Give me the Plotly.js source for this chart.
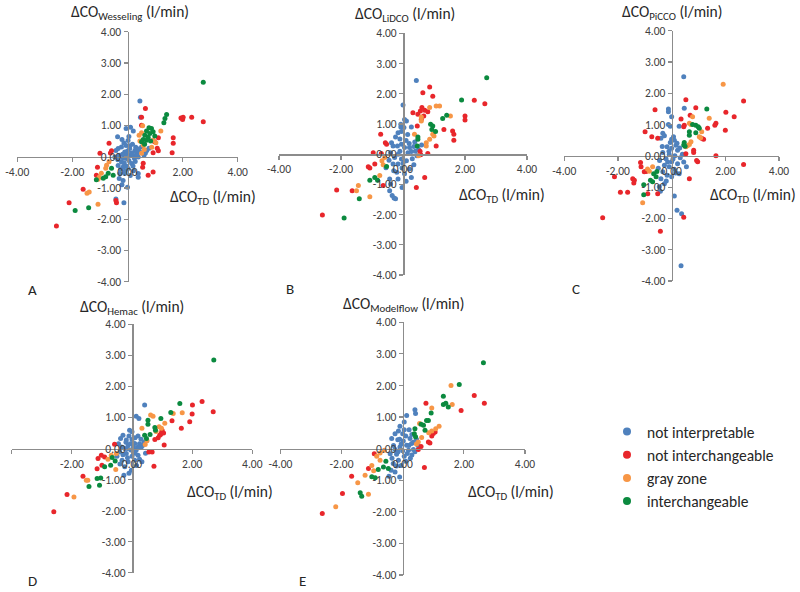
<!DOCTYPE html>
<html><head><meta charset="utf-8">
<script src="https://cdn.plot.ly/plotly-3.0.1.min.js"></script>
<style>html,body{margin:0;padding:0;background:#fff}#chart{width:800px;height:592px}</style>
</head><body><div id="chart"></div>
<script>
// ---------- data ----------
const categories = ['not interpretable', 'not interchangeable', 'gray zone', 'interchangeable'];
const panelLetters = ['A', 'B', 'C', 'D', 'E'];
const deviceNames = ['Wesseling', 'LiDCO', 'PiCCO', 'Hemac', 'Modelflow'];
const xTitleText = 'ΔCO<sub>TD</sub> (l/min)';
const xTickVals = [-4, -2, 0, 2, 4];
const xTickText = ['-4.00', '-2.00', '0.00', '2.00', '4.00'];
const yTickVals = [-4, -3, -2, -1, 0, 1, 2, 3, 4];
const yTickText = ['-4.00', '-3.00', '-2.00', '-1.00', '0.00', '1.00', '2.00', '3.00', '4.00'];

// Panel A: Wesseling  [ΔCO_TD, ΔCO_device]
const A_notInterpretable = [[0.45,1.78],[0.47,1.26],[-0.36,0.64],[0.11,0.94],[0.21,0.82],[-0.13,0.44],[0.02,0.52],[-0.05,0.36],[-0.34,0.26],[-0.22,0.31],[-0.46,-0.01],[-0.10,0.15],[0.08,0.26],[0.27,0.20],[0.33,0.12],[0.21,0.04],[-0.04,-0.06],[-0.22,-0.17],[-0.34,-0.28],[-0.16,-0.33],[0.02,-0.38],[0.15,-0.22],[0.39,-0.54],[0.00,-0.98],[-0.16,-0.76],[-0.42,-1.35],[-0.13,-1.47],[0.39,-0.66],[-0.28,-0.54],[-0.10,-0.54],[0.51,0.31],[0.39,-0.01],[0.12,0.05],[-0.08,0.02],[0.05,-0.12],[-0.18,0.08],[0.25,-0.05],[0.30,0.30],[-0.30,0.05],[0.00,0.18],[-0.12,-0.20],[0.18,0.40],[-0.25,-0.40],[0.10,-0.60],[-0.05,-0.30],[0.35,0.05],[0.45,0.15],[-0.35,-0.10],[0.05,0.65],[-0.20,0.55],[-0.30,-0.70],[0.20,-0.30],[0.28,-0.15],[-0.42,0.20],[0.15,0.12],[-0.15,-0.05],[0.40,0.25],[-0.05,0.90],[0.60,0.05],[0.70,0.20],[0.78,0.27],[0.65,0.12],[-0.08,-0.45],[0.08,0.35],[-0.02,0.10],[0.22,-0.45],[-0.20,-0.90]];
const A_notInterchangeable = [[2.75,1.12],[2.33,1.26],[1.94,1.24],[2.02,1.26],[2.00,1.19],[1.66,0.61],[1.66,0.43],[1.62,0.13],[1.12,0.61],[1.08,0.27],[1.12,0.19],[0.93,0.13],[0.65,1.54],[0.51,1.26],[0.51,1.01],[0.57,-0.21],[0.55,-0.34],[0.75,-0.59],[0.93,-0.49],[-0.67,0.43],[-1.00,0.11],[-0.58,0.19],[-0.62,0.12],[-1.09,-0.34],[-1.13,-0.59],[-1.61,-1.04],[-2.12,-1.47],[-2.58,-2.22],[-0.40,-1.47],[-0.42,-1.40],[0.98,0.48]];
const A_grayZone = [[1.21,0.82],[0.55,0.99],[0.51,0.77],[0.42,0.69],[0.93,0.53],[1.03,0.45],[0.57,0.37],[0.61,0.23],[0.51,0.11],[0.45,0.50],[-0.67,-0.16],[-0.76,-0.27],[-0.79,-0.37],[-0.95,-0.53],[-1.03,-0.66],[-1.07,-0.72],[-1.47,-1.17],[-1.39,-1.13],[-1.07,-1.52],[0.88,0.30]];
const A_interchangeable = [[2.75,2.38],[1.42,1.35],[1.36,1.22],[1.32,1.09],[0.78,0.93],[0.87,0.90],[0.69,0.82],[0.93,0.80],[0.81,0.74],[0.63,0.69],[0.75,0.62],[0.99,0.66],[0.57,0.55],[0.69,0.53],[0.84,0.50],[0.51,0.48],[0.62,0.40],[-0.70,-0.53],[-0.79,-0.64],[-0.88,-0.69],[-0.58,-0.37],[-0.52,-0.59],[-1.41,-1.63],[-1.90,-1.72],[-1.13,-0.74]];

// Panel B: LiDCO
const B_notInterpretable = [[0.43,2.44],[0.00,1.63],[0.05,1.15],[0.11,1.10],[-0.07,0.99],[-0.07,0.90],[0.03,0.88],[0.27,0.90],[-0.16,0.71],[-0.24,0.57],[-0.37,0.38],[-0.32,0.27],[-0.18,0.27],[-0.05,0.33],[0.05,0.22],[0.21,0.22],[0.27,0.09],[0.16,0.05],[-0.16,0.00],[-0.27,-0.11],[-0.05,-0.16],[0.11,-0.22],[-0.16,-0.33],[-0.32,-0.33],[-0.03,-0.46],[0.21,-0.49],[0.27,-0.77],[-0.43,-0.82],[-0.40,-0.99],[-0.43,-1.21],[-0.35,-1.37],[-0.29,-1.45],[-0.24,-1.48],[-0.03,-1.10],[-0.16,-0.82],[0.40,0.10],[0.45,-0.05],[0.35,0.25],[0.10,0.45],[-0.10,0.50],[0.50,0.15],[0.55,0.00],[0.30,-0.15],[-0.40,0.05],[-0.20,-0.60],[0.05,-0.65],[0.15,0.65],[-0.05,0.75],[0.38,0.40],[-0.45,-0.20],[0.00,-0.30],[-0.10,0.10],[0.20,0.35],[0.60,0.30],[-0.30,-0.55],[0.10,-0.90],[0.35,-0.35],[-0.55,-0.45]];
const B_notInterchangeable = [[2.64,1.67],[2.30,1.78],[2.00,1.26],[2.00,1.13],[1.60,0.77],[1.64,0.66],[1.64,0.46],[1.07,0.27],[1.32,0.82],[0.86,2.22],[0.64,2.03],[0.96,1.92],[0.61,1.54],[0.56,1.43],[0.70,1.45],[0.80,1.40],[0.67,1.26],[0.48,1.32],[0.32,1.37],[0.59,1.15],[0.46,0.93],[0.80,0.02],[0.57,-0.02],[0.70,-0.77],[0.43,-1.10],[-0.72,0.66],[-0.57,0.38],[-0.53,0.33],[-0.96,0.05],[-0.70,0.02],[-0.91,-0.33],[-1.12,-0.42],[-1.07,-0.46],[-0.64,-1.04],[-1.64,-1.21],[-2.14,-1.19],[-2.60,-2.01],[0.55,0.10]];
const B_grayZone = [[1.18,1.59],[1.07,1.59],[0.86,1.54],[1.53,1.26],[0.59,1.23],[0.59,1.10],[0.37,0.66],[0.75,0.38],[0.75,0.27],[0.96,0.66],[1.00,0.60],[0.86,0.49],[-0.59,-0.11],[-0.64,-0.35],[-0.75,-0.71],[-1.44,-1.04],[-1.50,-1.21],[-1.07,-1.41],[-0.68,-0.22],[0.50,-0.05]];
const B_interchangeable = [[2.70,2.53],[1.89,1.79],[1.41,1.29],[1.28,1.18],[0.96,0.93],[0.89,0.99],[0.93,0.82],[0.48,0.57],[0.48,0.49],[0.46,0.27],[-0.53,-0.41],[-1.07,-0.86],[-0.91,-0.77],[-0.82,-0.86],[-1.41,-1.48],[-1.90,-2.11],[1.05,0.75]];

// Panel C: PiCCO
const C_notInterpretable = [[0.45,2.53],[0.47,1.52],[-0.12,1.50],[-0.12,1.41],[0.00,1.25],[-0.12,1.00],[-0.05,0.95],[0.28,0.95],[-0.33,0.72],[-0.27,0.64],[-0.40,0.56],[0.07,0.61],[0.00,0.53],[0.10,0.50],[-0.05,0.43],[0.16,0.34],[-0.17,0.29],[0.00,0.24],[0.22,0.18],[-0.33,0.11],[-0.09,0.04],[0.12,0.00],[0.32,-0.06],[-0.21,-0.09],[0.00,-0.19],[0.22,-0.25],[-0.27,-0.30],[-0.09,-0.35],[0.10,-0.43],[-0.33,-0.51],[-0.17,-0.62],[0.00,-0.67],[0.28,-0.57],[-0.40,-0.73],[-0.27,-0.89],[-0.46,-0.99],[-0.42,-1.13],[0.10,-1.28],[0.20,-1.74],[0.37,-1.85],[0.35,-3.51],[0.40,0.05],[0.45,-0.20],[-0.45,-0.15],[-0.50,-0.40],[0.20,0.40],[-0.15,-0.20],[0.30,0.25],[0.05,-0.10],[-0.35,0.30],[0.15,-0.55],[-0.10,0.15],[0.55,-0.35],[-0.20,-0.80]];
const C_notInterchangeable = [[2.68,-0.28],[2.68,1.75],[2.33,1.25],[2.02,1.39],[2.00,0.82],[1.65,1.04],[1.61,0.98],[1.65,0.00],[1.34,0.88],[1.19,0.53],[1.12,0.56],[0.90,1.54],[0.97,-0.19],[0.93,-0.15],[0.82,0.18],[0.82,0.11],[0.53,1.79],[0.47,0.98],[0.45,0.93],[0.35,1.18],[0.69,1.30],[0.66,-0.73],[0.53,0.07],[0.45,-1.96],[-0.42,-2.41],[-0.62,1.47],[-0.99,0.77],[-0.74,0.61],[-0.52,0.56],[-1.14,-0.35],[-1.02,-0.51],[-0.95,-0.50],[-1.45,-0.73],[-1.39,-0.78],[-1.41,-0.87],[-1.64,-1.16],[-1.91,-1.16],[-2.13,-0.67],[-2.57,-1.98],[-0.89,-1.21],[-0.52,-1.21],[-1.16,-0.21]];
const C_grayZone = [[1.92,2.29],[0.78,1.25],[0.66,1.04],[0.72,1.00],[1.40,1.20],[1.12,0.77],[1.03,0.61],[1.08,0.58],[0.72,0.45],[0.66,0.36],[0.59,0.32],[0.53,0.29],[-0.71,-0.35],[-0.83,-0.49],[-1.08,-1.50],[-0.90,-0.42]];
const C_interchangeable = [[1.31,1.50],[0.78,1.00],[0.90,0.98],[0.99,0.93],[1.03,0.88],[0.66,0.77],[0.66,0.66],[0.90,0.74],[0.47,0.43],[0.50,0.31],[0.45,0.35],[-0.67,-0.57],[-0.58,-0.67],[-0.79,-0.78],[-0.71,-0.83],[-1.04,-0.92],[-1.04,-1.24],[-0.55,-0.50]];

// Panel D: Hemac
const D_notInterpretable = [[0.42,1.40],[0.14,1.04],[0.23,0.97],[0.00,0.54],[-0.08,0.59],[-0.30,0.43],[-0.38,0.32],[-0.19,0.27],[0.00,0.29],[0.20,0.40],[0.09,0.16],[-0.13,0.11],[-0.24,0.00],[-0.04,-0.05],[0.14,-0.05],[0.31,0.05],[-0.41,-0.11],[-0.19,-0.16],[0.00,-0.25],[0.20,-0.22],[-0.33,-0.38],[-0.13,-0.43],[-0.24,-0.59],[-0.02,-0.70],[0.33,-0.43],[0.09,-0.38],[-0.27,-0.86],[0.40,0.20],[0.35,0.10],[-0.45,0.15],[0.10,0.35],[-0.10,0.40],[0.25,0.15],[-0.30,-0.20],[0.05,-0.12],[-0.15,-0.30],[0.15,-0.55],[-0.40,-0.50],[0.45,-0.15],[-0.05,0.15],[0.30,0.30],[-0.20,0.20],[0.20,0.05],[-0.35,0.05],[0.10,-0.15],[-0.10,-0.80],[0.25,-0.35],[-0.50,-0.25],[0.05,0.05],[-0.15,0.00]];
const D_notInterchangeable = [[2.70,1.18],[2.33,1.51],[2.01,1.40],[2.00,1.11],[1.92,0.86],[1.64,0.65],[1.33,0.89],[1.00,0.59],[0.98,0.51],[0.92,0.43],[0.87,0.35],[1.07,0.11],[0.76,0.29],[0.67,-0.11],[0.56,-0.11],[0.73,-0.57],[-0.58,0.14],[-0.91,-0.27],[-1.02,-0.22],[-1.13,-0.32],[-1.16,-0.65],[-1.00,-0.54],[-1.63,-0.89],[-2.16,-1.48],[-2.60,-2.04],[0.95,0.45],[1.05,0.50]];
const D_grayZone = [[1.67,1.15],[1.37,1.13],[0.62,1.08],[0.70,1.04],[0.33,0.65],[0.44,0.13],[1.09,0.81],[0.98,0.65],[0.80,0.55],[-0.52,-0.16],[-0.69,-0.22],[-0.54,-0.68],[-1.52,-1.02],[-1.47,-1.02],[-1.93,-1.56],[-0.80,-0.35],[0.50,0.25],[0.90,0.70]];
const D_interchangeable = [[2.72,2.85],[1.59,1.45],[1.29,1.16],[0.96,0.97],[0.53,0.91],[0.53,0.78],[0.76,0.68],[0.78,0.59],[0.42,0.43],[0.48,0.32],[-0.66,-0.29],[-0.56,-0.40],[-0.71,-0.54],[-0.91,-0.59],[-1.04,-0.95],[-1.16,-0.97],[-1.43,-1.22],[-1.08,-1.18],[0.60,0.45]];

// Panel E: Modelflow
const E_notInterpretable = [[0.40,1.23],[0.42,1.11],[0.13,1.05],[0.05,0.84],[-0.09,0.71],[-0.14,0.56],[-0.25,0.47],[0.00,0.47],[0.21,0.60],[-0.36,0.32],[-0.16,0.28],[0.02,0.24],[0.24,0.32],[0.29,0.16],[0.13,0.11],[-0.09,0.05],[-0.25,-0.03],[0.00,-0.07],[0.19,-0.05],[0.35,-0.03],[-0.41,-0.16],[-0.20,-0.18],[0.05,-0.24],[-0.14,-0.37],[-0.31,-0.47],[-0.05,-0.53],[-0.25,-0.74],[-0.38,-0.68],[-0.45,-0.87],[0.25,-0.30],[0.40,-0.10],[0.45,0.30],[0.30,0.45],[-0.10,0.30],[0.10,0.40],[-0.30,0.10],[0.15,-0.15],[-0.05,0.15],[0.35,0.20],[-0.20,-0.55],[0.10,-0.40],[-0.35,-0.30],[0.20,0.10],[-0.15,-0.10],[0.05,0.60],[0.50,0.10],[-0.10,-0.90],[0.30,-0.20]];
const E_notInterchangeable = [[2.67,1.44],[2.34,1.68],[1.91,1.21],[0.76,1.44],[1.06,0.53],[1.00,0.48],[0.84,0.21],[0.89,0.18],[0.60,0.07],[0.51,-0.03],[0.71,-0.60],[-0.93,-0.16],[-1.12,-0.63],[-1.67,-0.87],[-1.97,-1.42],[-2.63,-2.05],[0.95,0.40]];
const E_grayZone = [[1.58,2.00],[1.62,1.40],[0.95,1.29],[1.19,0.71],[1.08,0.63],[0.95,0.56],[0.85,0.50],[0.62,0.35],[0.51,0.21],[0.55,0.80],[-0.74,-0.14],[-0.85,-0.24],[-0.74,-0.37],[-1.01,-0.53],[-1.23,-0.84],[-1.47,-1.08],[-1.12,-1.44],[-2.19,-1.84],[-0.60,-0.05],[-0.95,-0.70],[0.45,0.15]];
const E_interchangeable = [[2.64,2.72],[1.85,2.03],[1.33,1.66],[1.33,1.40],[1.41,1.44],[1.49,1.32],[0.93,1.13],[0.84,0.89],[0.78,0.89],[0.60,0.77],[0.68,0.74],[0.73,0.58],[0.40,0.63],[0.38,0.47],[0.42,0.38],[-0.47,-0.63],[-0.63,-0.58],[-0.80,-0.66],[-0.90,-0.92],[-1.01,-0.89],[-1.39,-1.40],[-1.34,-1.51],[-0.55,-0.40]];

const panelSeries = [
  [A_notInterpretable, A_notInterchangeable, A_grayZone, A_interchangeable],
  [B_notInterpretable, B_notInterchangeable, B_grayZone, B_interchangeable],
  [C_notInterpretable, C_notInterchangeable, C_grayZone, C_interchangeable],
  [D_notInterpretable, D_notInterchangeable, D_grayZone, D_interchangeable],
  [E_notInterpretable, E_notInterchangeable, E_grayZone, E_interchangeable]
];

// ---------- styling / geometry ----------
const W = 800, H = 592;
const colors = ['#4F81BD', '#E8262B', '#F79646', '#0B8A3F'];
const FONT = 'Carlito, Lato, "Liberation Sans", sans-serif';
// plot boxes in pixels: [left, right, top, bottom]
const boxes = [
  [17.3, 237.7, 31.7, 281.7],
  [279, 527, 33.3, 275],
  [564.3, 779, 30.7, 281],
  [11.7, 252.3, 324.3, 572.7],
  [280.4, 525, 322.3, 575]
];
// [x, y, xanchor] in pixels
const yTitlePos = [[130, 12, 'center'], [405, 14, 'center'], [672, 12, 'center'], [132, 307, 'center'], [403, 304, 'center']];
const xTitlePos = [[213, 197, 'center'], [502, 196, 'center'], [798, 196, 'right'], [230, 492, 'center'], [511, 492, 'center']];
const letterPos = [[32, 290], [290, 289], [576, 289], [32, 581], [302, 581]];

const px = v => v / W, py = v => (H - v) / H;

const traces = [];
const layout = {
  width: W, height: H,
  margin: {l: 0, r: 0, t: 0, b: 0},
  paper_bgcolor: '#ffffff', plot_bgcolor: 'rgba(0,0,0,0)',
  font: {family: FONT, color: '#262626'},
  showlegend: true,
  legend: {
    x: px(607), y: py(415), xanchor: 'left', yanchor: 'top',
    font: {family: FONT, size: 15.5, color: '#262626'},
    bgcolor: 'rgba(0,0,0,0)', borderwidth: 0, tracegroupgap: 0
  },
  annotations: [],
  hovermode: false
};

boxes.forEach((b, i) => {
  const n = i === 0 ? '' : String(i + 1);
  const xd = [px(b[0]), px(b[1])];
  const yd = [py(b[3]), py(b[2])];
  const xmid = (xd[0] + xd[1]) / 2, ymid = (yd[0] + yd[1]) / 2;
  layout['xaxis' + n] = {
    domain: xd, range: [-4, 4], anchor: 'free', position: ymid,
    showgrid: false, zeroline: false, showline: true,
    linecolor: '#8C8C8C', linewidth: 1.5,
    ticks: 'outside', ticklen: 4, tickcolor: '#8C8C8C', tickwidth: 1.2,
    tickmode: 'array', tickvals: xTickVals, ticktext: xTickText,
    tickfont: {family: FONT, size: 11.5, color: '#404040'}, fixedrange: true
  };
  layout['yaxis' + n] = {
    domain: yd, range: [-4, 4], anchor: 'free', position: xmid, side: 'left',
    showgrid: false, zeroline: false, showline: true,
    linecolor: '#8C8C8C', linewidth: 1.5,
    ticks: 'outside', ticklen: 4, tickcolor: '#8C8C8C', tickwidth: 1.2,
    tickmode: 'array', tickvals: yTickVals, ticktext: yTickText,
    tickfont: {family: FONT, size: 11.5, color: '#404040'}, fixedrange: true
  };
  panelSeries[i].forEach((pts, c) => {
    traces.push({
      type: 'scatter', mode: 'markers',
      x: pts.map(p => p[0]), y: pts.map(p => p[1]),
      xaxis: 'x' + n, yaxis: 'y' + n,
      marker: {color: colors[c], size: 5},
      showlegend: false, hoverinfo: 'skip', cliponaxis: false
    });
  });
  layout.annotations.push({
    xref: 'paper', yref: 'paper', x: px(yTitlePos[i][0]), y: py(yTitlePos[i][1]),
    xanchor: yTitlePos[i][2], yanchor: 'middle', showarrow: false,
    text: 'ΔCO<sub>' + deviceNames[i] + '</sub> (l/min)',
    font: {family: FONT, size: 15.5, color: '#262626'}
  });
  layout.annotations.push({
    xref: 'paper', yref: 'paper', x: px(xTitlePos[i][0]), y: py(xTitlePos[i][1]),
    xanchor: xTitlePos[i][2], yanchor: 'middle', showarrow: false,
    text: xTitleText,
    font: {family: FONT, size: 15.5, color: '#262626'}
  });
  layout.annotations.push({
    xref: 'paper', yref: 'paper', x: px(letterPos[i][0]), y: py(letterPos[i][1]),
    xanchor: 'center', yanchor: 'middle', showarrow: false,
    text: panelLetters[i],
    font: {family: FONT, size: 15, color: '#262626'}
  });
});

// legend entries
categories.forEach((name, c) => {
  traces.push({
    type: 'scatter', mode: 'markers', x: [null], y: [null],
    xaxis: 'x', yaxis: 'y', name: name, legendgroup: 'g' + c,
    marker: {color: colors[c], size: 8}, showlegend: true, hoverinfo: 'skip'
  });
});

Plotly.newPlot('chart', traces, layout, {displayModeBar: false, staticPlot: true});
</script>
</body></html>
